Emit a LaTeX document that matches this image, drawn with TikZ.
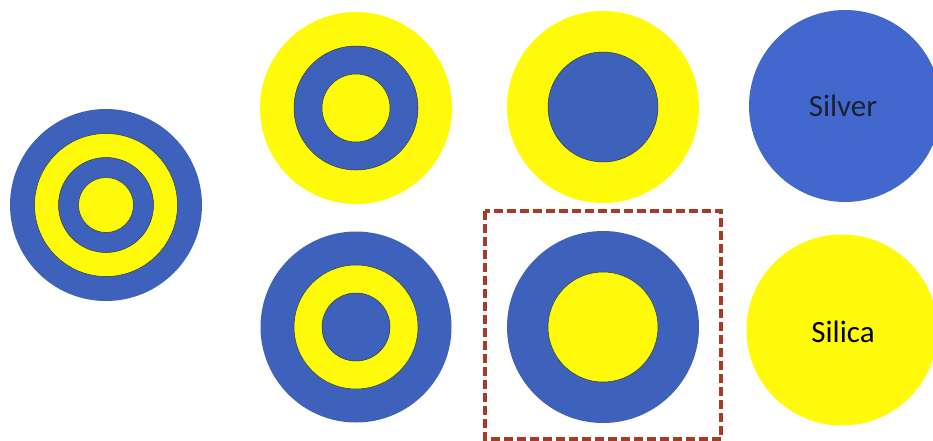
\documentclass[tikz,border=0pt]{standalone}
\usepackage{fontspec}
\setmainfont{Carlito}
\definecolor{cblue}{RGB}{62,98,188}
\definecolor{sblue}{RGB}{66,104,205}
\definecolor{cyel}{RGB}{255,250,10}
\definecolor{boxred}{RGB}{168,58,40}
\definecolor{edge}{RGB}{40,60,60}
\definecolor{txt}{RGB}{28,32,50}
\begin{document}
\begin{tikzpicture}[x=1pt,y=-1pt,
  disk/.style={circle,inner sep=0pt,outer sep=0pt,minimum size=#1},
  bl/.style={fill=cblue},
  yl/.style={fill=cyel},
  inedge/.style={draw=edge,line width=0.5pt},
  lbl/.style={font=\fontsize{31}{32}\selectfont,text=txt}]
\useasboundingbox (0,0) rectangle (933,440);
\begin{scope}
\clip (0,0) rectangle (933,440);
% left: four layers
\node[disk=192,bl] (a1) at (106,205) {};
\node[disk=143,yl,inedge] (a2) at (106,205) {};
\node[disk=95,bl,inedge] (a3) at (106,205) {};
\node[disk=55,yl,inedge] (a4) at (106,205) {};
% top row
\node[disk=192,yl] (b1) at (356,108) {};
\node[disk=124,bl,inedge] (b2) at (356,108) {};
\node[disk=68,yl,inedge] (b3) at (356,108) {};
\node[disk=192,yl] (c1) at (603,107) {};
\node[disk=110,bl,inedge] (c2) at (603,107) {};
\node[disk=192,fill=sblue] (d1) at (845,106) {};
\node[lbl] (d1t) at (843,106) {Silver};
% bottom row
\node[disk=191,bl] (e1) at (356,327) {};
\node[disk=124,yl,inedge] (e2) at (356,327) {};
\node[disk=68,bl,inedge] (e3) at (356,327) {};
\node[disk=192,bl] (f1) at (603,327) {};
\node[disk=110,yl,inedge] (f2) at (603,327) {};
\node[disk=191,fill=cyel] (g1) at (842,330) {};
\node[lbl,text=black] (g1t) at (843,332) {Silica};
% dashed selection box
\draw[boxred,line width=3.4pt,dash pattern=on 9pt off 4pt] (485,211) rectangle (721,439);
\end{scope}
\end{tikzpicture}
\end{document}
